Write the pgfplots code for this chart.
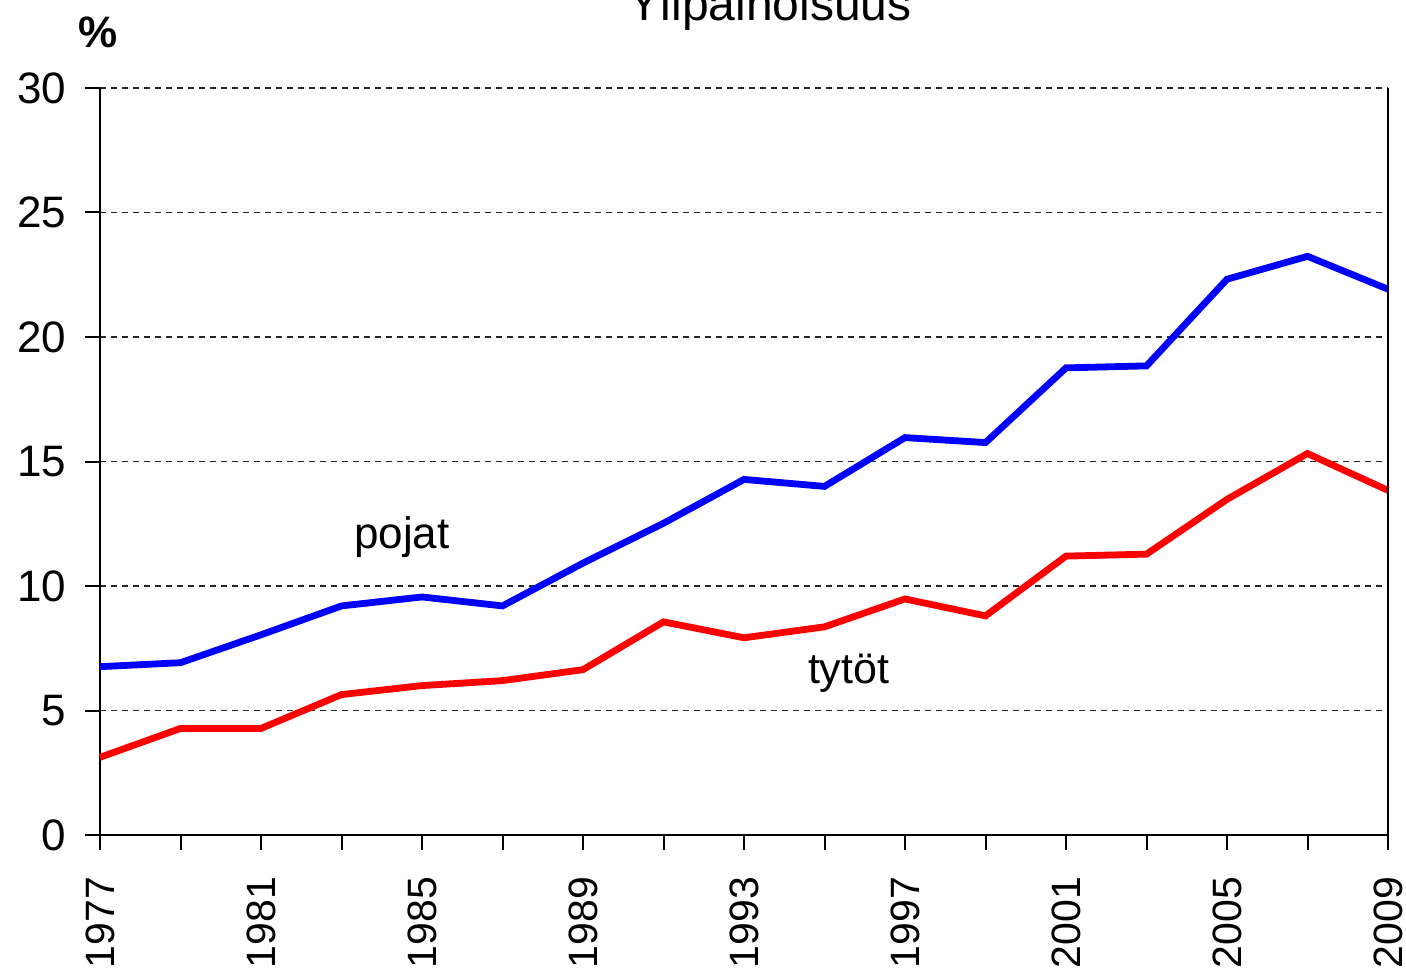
\documentclass[border=0pt]{standalone}
\usepackage{pgfplots}
\pgfplotsset{compat=1.18}
\usepackage{fontspec}
\setmainfont{Liberation Sans}
\begin{document}
\begin{tikzpicture}
\begin{axis}[
  scale only axis,
  width=644pt, height=373.5pt,
  xmin=1977, xmax=2009, ymin=0, ymax=30,
  axis lines*=left,
  axis line style={line width=1pt, black},
  xtick={1977,1979,...,2009},
  xticklabels={1977,,1981,,1985,,1989,,1993,,1997,,2001,,2005,,2009},
  ytick={0,5,...,30},
  x tick label style={rotate=90, anchor=east, font=\fontsize{20.5pt}{22pt}\selectfont},
  y tick label style={font=\fontsize{22pt}{24pt}\selectfont},
  xticklabel shift=10pt,
  yticklabel shift=6pt,
  /pgf/number format/assume math mode=true,
  /pgf/number format/1000 sep={},
  tick align=outside,
  major tick length=7.5pt,
  tick style={line width=1pt, black},
  ymajorgrids,
  grid style={dash pattern=on 3pt off 2.5pt, line width=0.6pt, black!85},
  clip=false,
]
\addplot[blue, line width=3.4pt] coordinates {
(1977,6.76) (1979,6.92) (1981,8.04) (1983,9.2) (1985,9.56) (1987,9.2)
(1989,10.92) (1991,12.52) (1993,14.28) (1995,14.0) (1997,15.96) (1999,15.76)
(2001,18.76) (2003,18.84) (2005,22.32) (2007,23.24) (2009,21.92)};
\addplot[red, line width=3.4pt] coordinates {
(1977,3.12) (1979,4.28) (1981,4.28) (1983,5.64) (1985,6.0) (1987,6.2)
(1989,6.64) (1991,8.56) (1993,7.92) (1995,8.36) (1997,9.48) (1999,8.8)
(2001,11.2) (2003,11.28) (2005,13.48) (2007,15.32) (2009,13.84)};
\draw[line width=1pt] (rel axis cs:1,0) -- (rel axis cs:1,1);
\node[font=\fontsize{22pt}{24pt}\selectfont] at (axis cs:1984.5,11.97) {pojat};
\node[font=\fontsize{21.5pt}{24pt}\selectfont] at (axis cs:1995.6,6.5) {tytöt};
\node[font=\fontsize{22pt}{24pt}\selectfont\bfseries] at (axis cs:1976.95,32.25) {\%};
\node[anchor=base, font=\fontsize{24pt}{26pt}\selectfont] at (axis cs:1993.65,32.73) {Ylipainoisuus};
\end{axis}
\pgfresetboundingbox
\path ([shift={(-50pt,-69.5pt)}]current axis.south west) rectangle ([shift={(9pt,44pt)}]current axis.north east);
\end{tikzpicture}
\end{document}
